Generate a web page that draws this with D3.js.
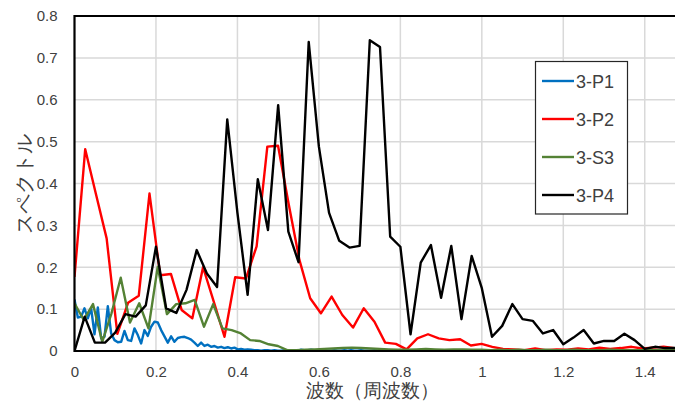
<!DOCTYPE html>
<html>
<head>
<meta charset="utf-8">
<script src="https://cdn.jsdelivr.net/npm/d3@7"></script>
<style>
  html, body { margin: 0; padding: 0; background: #fff; }
  svg { display: block; }
  text { font-family: "Liberation Sans", "Noto Sans", sans-serif; }
</style>
</head>
<body>
<svg id="chart" width="675" height="401"></svg>
<script>
// Spectra of four records; each series is sampled at its own frequency step.
const seriesNames = ["3-P1", "3-P2", "3-S3", "3-P4"];
const seriesColors = ["#0070C0", "#FF0000", "#548235", "#000000"];
const freqSteps = [0.00818, 0.02630, 0.02270, 0.02500];

const p1Values = [
  0.123,0.080,0.082,0.102,0.078,0.102,0.040,0.104,0.030,0.034,
  0.107,0.042,0.026,0.021,0.022,0.048,0.026,0.024,0.054,0.038,
  0.018,0.050,0.036,0.058,0.070,0.068,0.050,0.035,0.020,0.035,
  0.022,0.031,0.033,0.034,0.031,0.027,0.020,0.012,0.020,0.012,
  0.015,0.010,0.012,0.008,0.010,0.007,0.009,0.006,0.008,0.004,
  0.005,0.003,0.004,0.003,0.002,0.002,0.001,0.002,0.002,0.001,
  0.002,0.001,0.001,0.002,0.001,0.002,0.002,0.001,0.003,0.002,
  0.002,0.003,0.002,0.001,0.002,0.002,0.001,0.001,0.002,0.001,
  0.001,0.002,0.001,0.002,0.001,0.001,0.002,0.001,0.001,0.001,
  0.002,0.001,0.001,0.001,0.002,0.001,0.001,0.001,0.001,0.002,
  0.001,0.001,0.001,0.001,0.001,0.001,0.002,0.001,0.001,0.001,
  0.001,0.001,0.001,0.001,0.001,0.001,0.001,0.001,0.001,0.001,
  0.001,0.001,0.001,0.001,0.001,0.001,0.001,0.001,0.001,0.001,
  0.001,0.001,0.001,0.001,0.001,0.001,0.001,0.001,0.001,0.001,
  0.001,0.001,0.001,0.001,0.001,0.001,0.001,0.001,0.001,0.001,
  0.001,0.001,0.001,0.001,0.001,0.001,0.001,0.001,0.001,0.001,
  0.001,0.001,0.001,0.001,0.001,0.001,0.001,0.001,0.001,0.001,
  0.001,0.001,0.001,0.001,0.001,0.001,0.001,0.001,0.001,0.001
];

const p2Values = [
  0.177,0.482,0.375,0.269,0.041,0.115,0.132,0.376,0.181,0.184,
  0.098,0.078,0.200,0.118,0.034,0.176,0.173,0.250,0.488,0.490,
  0.350,0.217,0.126,0.090,0.130,0.086,0.056,0.102,0.070,0.020,
  0.017,0.004,0.030,0.040,0.030,0.026,0.028,0.013,0.017,0.010,
  0.005,0.004,0.002,0.006,0.002,0.004,0.003,0.006,0.004,0.008,
  0.005,0.007,0.010,0.006,0.008,0.010,0.007
];

const s3Values = [
  0.114,0.074,0.112,0.022,0.090,0.175,0.068,0.114,0.054,0.201,
  0.088,0.112,0.114,0.122,0.058,0.112,0.054,0.050,0.042,0.026,
  0.024,0.016,0.012,0.002,0.002,0.003,0.004,0.005,0.006,0.007,
  0.008,0.007,0.006,0.005,0.004,0.003,0.003,0.004,0.005,0.004,
  0.003,0.004,0.004,0.003,0.003,0.002,0.003,0.002,0.003,0.002,
  0.002,0.003,0.002,0.002,0.003,0.002,0.002,0.002,0.003,0.002,
  0.002,0.002,0.002,0.002,0.002,0.002
];

const p4Values = [
  0.000,0.082,0.020,0.020,0.044,0.088,0.082,0.109,0.249,0.102,
  0.091,0.146,0.241,0.185,0.153,0.553,0.330,0.134,0.410,0.289,
  0.587,0.285,0.212,0.738,0.488,0.330,0.263,0.247,0.251,0.742,
  0.726,0.273,0.249,0.040,0.211,0.253,0.127,0.251,0.076,0.227,
  0.150,0.034,0.060,0.112,0.076,0.072,0.042,0.050,0.016,0.032,
  0.050,0.018,0.024,0.024,0.041,0.026,0.005,0.010,0.007,0.007
];

const xTicks = [0, 0.2, 0.4, 0.6, 0.8, 1, 1.2, 1.4];
const yTicks = [0, 0.1, 0.2, 0.3, 0.4, 0.5, 0.6, 0.7, 0.8];
const xTitle = "波数（周波数）";
const yTitle = "スペクトル";

const allValues = [p1Values, p2Values, s3Values, p4Values];
const series = seriesNames.map((name, k) => ({
  name,
  color: seriesColors[k],
  points: allValues[k].map((v, i) => ({ f: i * freqSteps[k], v }))
}));

const svg = d3.select("#chart");
const plot = { left: 74.5, right: 676, top: 16, bottom: 351 };

const x = d3.scaleLinear().domain([0, 1.4767]).range([plot.left, plot.right]);
const y = d3.scaleLinear().domain([0, 0.8]).range([plot.bottom, plot.top]);

// gridlines
const grid = svg.append("g");
grid.selectAll("line.h").data(yTicks.slice(1)).join("line")
  .attr("x1", plot.left).attr("x2", plot.right)
  .attr("y1", d => y(d)).attr("y2", d => y(d))
  .attr("stroke", "#D9D9D9").attr("stroke-width", 1.5);
grid.selectAll("line.v").data(xTicks.slice(1)).join("line")
  .attr("y1", plot.top).attr("y2", plot.bottom)
  .attr("x1", d => x(d)).attr("x2", d => x(d))
  .attr("stroke", "#D9D9D9").attr("stroke-width", 1.5);

// axes (labels only; the frame is drawn separately)
const xAxis = d3.axisBottom(x).tickValues(xTicks).tickSize(0).tickPadding(15)
  .tickFormat(d3.format("~g"));
const yAxis = d3.axisLeft(y).tickValues(yTicks).tickSize(0).tickPadding(17)
  .tickFormat(d3.format("~g"));

const gx = svg.append("g").attr("transform", `translate(0,${plot.bottom})`).call(xAxis);
const gy = svg.append("g").attr("transform", `translate(${plot.left},0)`).call(yAxis);
[gx, gy].forEach(g => {
  g.select(".domain").remove();
  g.selectAll("text").attr("font-size", 15).attr("fill", "#404040")
    .attr("font-family", "'Liberation Sans', sans-serif");
});

// series lines
svg.append("clipPath").attr("id", "clip").append("rect")
  .attr("x", plot.left).attr("y", plot.top - 2)
  .attr("width", plot.right - plot.left).attr("height", plot.bottom - plot.top + 2);

const line = d3.line().x(d => x(d.f)).y(d => y(d.v));
svg.append("g").attr("clip-path", "url(#clip)")
  .selectAll("path").data(series).join("path")
  .attr("d", d => line(d.points))
  .attr("fill", "none")
  .attr("stroke", d => d.color)
  .attr("stroke-width", 2.4)
  .attr("stroke-linejoin", "round");

// plot frame
svg.append("path")
  .attr("d", `M${plot.right},${plot.top}H${plot.left}V${plot.bottom}H${plot.right}`)
  .attr("fill", "none").attr("stroke", "#000").attr("stroke-width", 2.2);

// axis titles
svg.append("text")
  .attr("x", 372).attr("y", 396.5)
  .attr("text-anchor", "middle")
  .attr("font-size", 18.5).attr("fill", "#404040")
  .attr("font-family", "'Noto Sans CJK JP', sans-serif")
  .text(xTitle);
svg.append("text")
  .attr("transform", "translate(31,184) rotate(-90)")
  .attr("text-anchor", "middle")
  .attr("font-size", 20).attr("fill", "#404040")
  .attr("font-family", "'Noto Sans CJK JP', sans-serif")
  .text(yTitle);

// legend
const legend = svg.append("g");
legend.append("rect")
  .attr("x", 535.5).attr("y", 61.5).attr("width", 92).attr("height", 152.5)
  .attr("fill", "#fff").attr("stroke", "#262626").attr("stroke-width", 1.2);
const items = legend.selectAll("g.item").data(series).join("g")
  .attr("transform", (d, i) => `translate(0,${81 + i * 38})`);
items.append("line")
  .attr("x1", 542).attr("x2", 574).attr("y1", 0).attr("y2", 0)
  .attr("stroke", d => d.color).attr("stroke-width", 2.4);
items.append("text")
  .attr("x", 576).attr("y", 6.5)
  .attr("font-size", 18).attr("fill", "#404040")
  .text(d => d.name);
</script>
</body>
</html>
